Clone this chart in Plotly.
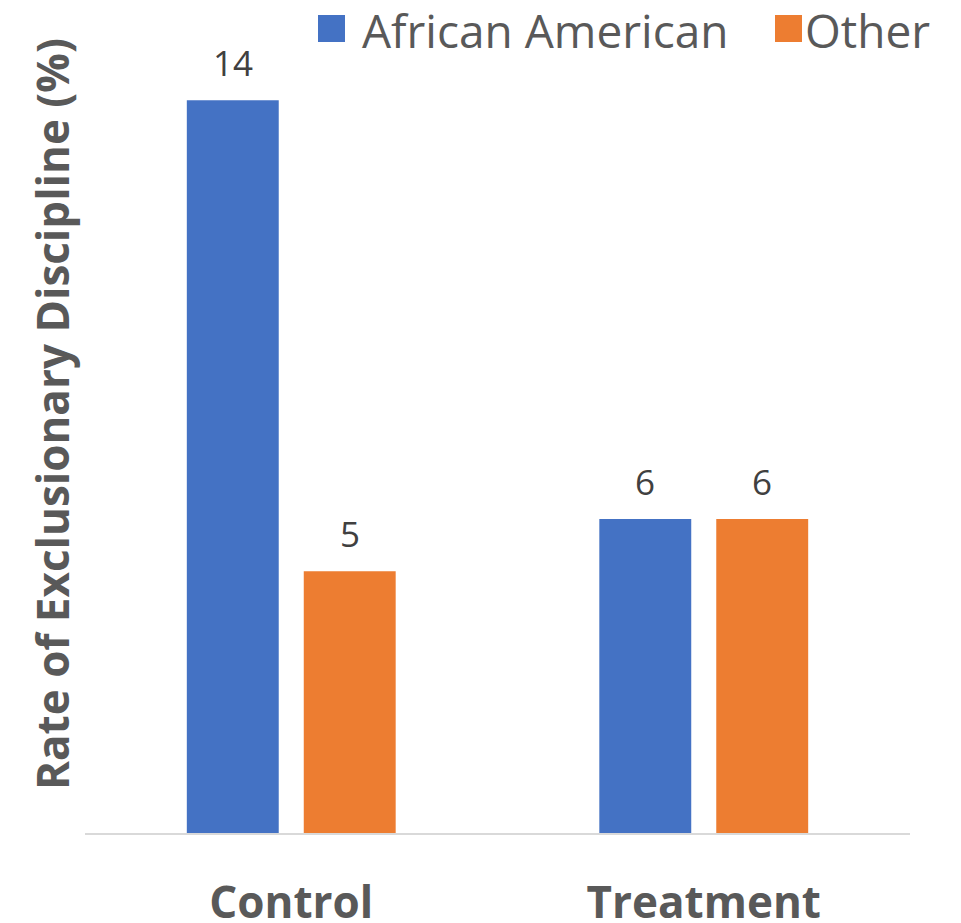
import plotly.graph_objects as go

# Rate of exclusionary discipline by group and student race
groups = ["Control", "Treatment"]
series_names = ["African American", "Other"]
african_american = [14, 6]
other = [5, 6]
series_values = [african_american, other]
series_colors = ["#4472C4", "#ED7D31"]
y_title = "Rate of Exclusionary Discipline (%)"

FONT = "Open Sans"
GREY = "#595959"

fig = go.Figure()
for name, vals, col in zip(series_names, series_values, series_colors):
    fig.add_trace(go.Bar(
        x=groups, y=vals, name=name, marker_color=col,
        marker_line_width=0, showlegend=False,
    ))

# value labels above each bar
slot_px = 117
for i, vals in enumerate(series_values):
    shift = (i - 0.5) * slot_px
    for g, v in zip(groups, vals):
        fig.add_annotation(
            x=g, y=v, text=str(v), showarrow=False,
            xshift=shift, yshift=12, yanchor="bottom",
            font=dict(family=FONT, size=35, color="#404040"),
        )

# helpers converting pixel positions to paper fractions
plot_h = 785
def py(px):
    return (833 - px) / plot_h

def px_x(px):
    return (px - 85) / 825

# legend drawn as colored squares with labels
legend_squares = [318, 775]
legend_text_x = [361, 804]
for sq, tx, name, col in zip(legend_squares, legend_text_x, series_names, series_colors):
    fig.add_shape(
        type="rect", xref="paper", yref="paper",
        x0=px_x(sq), x1=px_x(sq + 27), y0=py(42), y1=py(15),
        fillcolor=col, line_width=0,
    )
    fig.add_annotation(
        xref="paper", yref="paper", x=px_x(tx), y=py(30),
        xanchor="left", yanchor="middle", showarrow=False, borderpad=0,
        text=name, font=dict(family=FONT, size=46, color=GREY),
    )

# vertical axis title
fig.add_annotation(
    xref="paper", yref="paper", x=px_x(52), y=py(414),
    xanchor="center", yanchor="middle", showarrow=False, textangle=-90,
    text=y_title, font=dict(family=FONT, size=44, color=GREY, weight="bold"),
)

fig.update_layout(
    width=961, height=923,
    margin=dict(l=85, r=51, t=48, b=90),
    plot_bgcolor="white", paper_bgcolor="white",
    barmode="group", bargap=0.433, bargroupgap=0.214,
    font=dict(family=FONT, color=GREY),
    xaxis=dict(
        showline=True, linecolor="#D9D9D9", linewidth=2,
        ticks="", automargin=False,
        tickfont=dict(family=FONT, size=44, color=GREY, weight="bold"),
        ticklabelstandoff=30,
    ),
    yaxis=dict(
        range=[0, 15], showticklabels=False, showgrid=False,
        zeroline=False, ticks="", automargin=False,
    ),
)

fig.write_html("out.html")
